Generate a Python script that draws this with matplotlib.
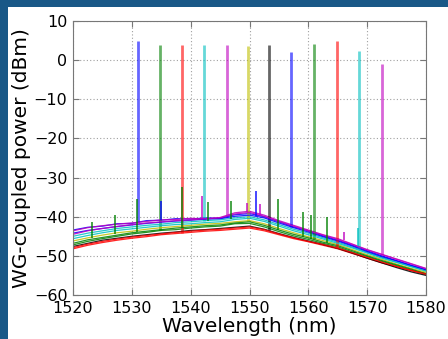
import matplotlib
matplotlib.use('Agg')
import matplotlib.pyplot as plt
from matplotlib.patches import Rectangle

# wavelength grid of the read-off background spectra (nm)
wl = [1520, 1522.5, 1525, 1527.5, 1530, 1532.5, 1535, 1537.5, 1540, 1542.5, 1545, 1547.5, 1550,
      1552.5, 1555, 1557.5, 1560, 1562.5, 1565, 1567.5, 1570, 1572.5, 1575, 1577.5, 1580]

colors = ['b', 'g', 'r', 'c', 'm', 'y', 'k', 'b', 'g', 'r', 'c', 'm']

# background level of each trace (dBm)
base = [
    [-43.4, -42.7, -42.4, -41.8, -41.7, -41.0, -40.9, -40.5, -40.6, -40.3, -40.4, -39.5, -39.2,
     -40.0, -41.3, -42.6, -43.6, -44.9, -46.0, -47.3, -48.7, -50.0, -51.2, -52.4, -53.5],
    [-47.2, -46.3, -45.6, -45.0, -44.4, -44.0, -43.5, -43.3, -42.9, -42.6, -42.4, -41.8, -41.7,
     -42.6, -43.8, -44.9, -45.8, -46.8, -47.7, -49.0, -50.2, -51.4, -52.5, -53.6, -54.5],
    [-48.2, -47.3, -46.6, -46.0, -45.5, -45.1, -44.6, -44.3, -44.0, -43.7, -43.5, -43.2, -42.9,
     -43.6, -44.6, -45.6, -46.4, -47.3, -48.2, -49.4, -50.6, -51.8, -52.8, -53.8, -54.8],
    [-45.0, -44.2, -43.6, -43.0, -42.6, -42.2, -41.9, -41.5, -41.3, -41.0, -40.8, -40.3, -40.0,
     -40.8, -42.0, -43.2, -44.2, -45.4, -46.5, -47.8, -49.1, -50.4, -51.6, -52.7, -53.8],
    [-43.6, -42.8, -42.3, -41.9, -41.6, -41.2, -40.8, -40.7, -40.4, -40.6, -40.2, -39.0, -38.6,
     -39.6, -41.0, -42.2, -43.4, -44.6, -45.6, -47.0, -48.4, -49.6, -50.8, -52.0, -53.2],
    [-46.2, -45.4, -44.7, -44.1, -43.7, -43.2, -42.8, -42.5, -42.2, -41.9, -41.7, -41.3, -41.0,
     -41.8, -43.0, -44.1, -45.1, -46.1, -47.1, -48.4, -49.7, -50.9, -52.1, -53.2, -54.2],
    [-47.6, -46.8, -46.0, -45.5, -45.0, -44.6, -44.2, -43.9, -43.5, -43.3, -43.0, -42.7, -42.4,
     -43.2, -44.3, -45.3, -46.2, -47.1, -48.1, -49.3, -50.6, -51.8, -53.0, -54.1, -55.0],
    [-44.2, -43.5, -43.0, -42.5, -42.1, -41.7, -41.4, -41.1, -40.9, -40.6, -40.5, -39.9, -39.6,
     -40.3, -41.6, -42.8, -43.9, -45.1, -46.2, -47.5, -48.9, -50.2, -51.3, -52.5, -53.6],
    [-46.8, -45.9, -45.3, -44.7, -44.1, -43.7, -43.3, -42.9, -42.6, -42.3, -42.1, -41.6, -41.3,
     -42.2, -43.4, -44.5, -45.4, -46.5, -47.4, -48.7, -50.0, -51.2, -52.3, -53.4, -54.6],
    [-47.9, -47.0, -46.3, -45.7, -45.2, -44.8, -44.4, -44.0, -43.7, -43.4, -43.2, -42.9, -42.6,
     -43.3, -44.4, -45.4, -46.3, -47.1, -48.0, -49.2, -50.4, -51.6, -52.7, -53.7, -54.6],
    [-45.6, -44.8, -44.1, -43.5, -43.1, -42.7, -42.3, -42.0, -41.8, -41.5, -41.3, -40.7, -40.4,
     -41.2, -42.4, -43.6, -44.6, -45.7, -46.8, -48.0, -49.3, -50.6, -51.7, -52.8, -53.9],
    [-44.5, -43.6, -43.0, -42.5, -42.0, -41.6, -41.3, -41.0, -40.8, -40.5, -40.3, -39.3, -38.9,
     -39.9, -41.2, -42.4, -43.6, -44.7, -45.8, -47.1, -48.5, -49.7, -50.9, -52.1, -53.3],
]

# laser lines
peak_wl = [1531.0, 1534.8, 1538.5, 1542.2, 1546.1, 1549.8, 1553.3, 1557.0, 1561.0, 1564.8, 1568.6, 1572.5]
peak_dbm = [5.0, 3.8, 3.8, 3.8, 3.8, 3.5, 3.8, 2.0, 4.2, 4.9, 2.3, -1.1]
foot_dbm = [-41.4, -43.5, -44.2, -41.0, -39.5, -41.0, -43.5, -42.6, -45.8, -47.9, -47.9, -49.7]

# small side spikes: trace index, wavelength, top (dBm), bottom (dBm)
spike_trace = [8, 8, 1, 0, 8, 4, 1, 1, 7, 8, 8, 8, 8, 10, 4, 4, 4]
spike_wl = [1523.2, 1527.1, 1530.8, 1535.0, 1538.6, 1542.0, 1543.0, 1546.9, 1551.1, 1554.9, 1559.1,
            1560.4, 1563.2, 1568.5, 1549.5, 1551.8, 1566.0]
spike_top = [-41.3, -39.6, -35.5, -36.0, -32.5, -34.6, -36.2, -36.0, -33.4, -35.6, -38.8, -39.5,
             -40.0, -43.0, -36.5, -36.8, -44.0]
spike_bot = [-45.5, -44.5, -43.8, -40.9, -43.0, -40.5, -41.0, -40.5, -39.8, -43.5, -45.3, -45.6,
             -46.8, -47.5, -38.8, -39.5, -46.0]

fig = plt.figure(figsize=(4.48, 3.39), dpi=100, facecolor='#195887')
fig.patches.append(Rectangle((8 / 448, 0), 1, 1 - 7 / 339, transform=fig.transFigure,
                             facecolor='white', edgecolor='none', zorder=-1))
ax = fig.add_axes([73 / 448, 44 / 339, 353 / 448, 274 / 339])

for i in range(len(base)):
    ax.plot(wl, base[i], color=colors[i], lw=0.9, alpha=0.85)
    ax.vlines(peak_wl[i], foot_dbm[i], peak_dbm[i], color=colors[i], lw=2.0, alpha=0.6)

for t, w, top, bot in zip(spike_trace, spike_wl, spike_top, spike_bot):
    ax.vlines(w, bot, top, color=colors[t], lw=1.2, alpha=0.85)

ax.set_xlim(1520, 1580)
ax.set_ylim(-60, 10)
ax.set_xticks(range(1520, 1581, 10))
ax.set_yticks(range(-60, 11, 10))
ax.grid(True, linestyle=(0, (1, 2)), color='#a0a0a0', linewidth=0.8)
ax.tick_params(direction='in', top=True, right=True, length=4, labelsize=11.5, pad=4,
               color='#777777')
for s in ax.spines.values():
    s.set_color('#777777')
ax.set_xlabel('Wavelength (nm)', fontsize=14.5, labelpad=1)
ax.set_ylabel('WG-coupled power (dBm)', fontsize=14.5, labelpad=2)

fig.savefig('out.png', dpi=100, facecolor=fig.get_facecolor())
